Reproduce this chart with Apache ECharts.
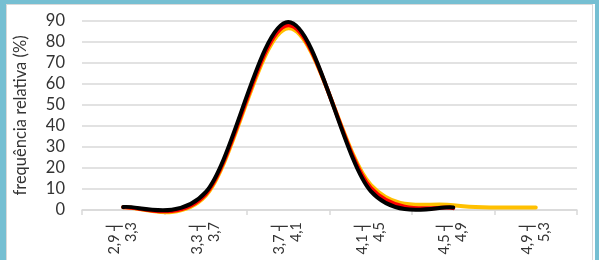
<!DOCTYPE html>
<html>
<head>
<meta charset="utf-8">
<script src="https://cdn.jsdelivr.net/npm/echarts@6/dist/echarts.min.js"></script>
<style>
  html, body { margin: 0; padding: 0; background: #fff; }
  #wrap { position: relative; width: 599px; height: 260px; overflow: hidden; }
  #chart { position: absolute; left: 0; top: 0; width: 599px; height: 260px; }
  .frame { position: absolute; pointer-events: none; }
</style>
</head>
<body>
<div id="wrap">
  <div id="chart"></div>
  <!-- blue slide frame + thin grey chart border -->
  <div class="frame" style="left:6px;top:4px;width:587px;height:260px;border:1px solid #d9d9d9;box-sizing:border-box;"></div>
  <div class="frame" style="left:0;top:0;width:6px;height:260px;background:#76bfd2;"></div>
  <div class="frame" style="left:0;top:0;width:599px;height:4px;background:#76bfd2;"></div>
  <div class="frame" style="left:595px;top:0;width:4px;height:260px;background:#76bfd2;"></div>
</div>
<script>
// class intervals (x axis)
var categories = ["2,9 ┤\n3,3", "3,3 ┤\n3,7", "3,7 ┤\n4,1", "4,1 ┤\n4,5", "4,5 ┤\n4,9", "4,9 ┤\n5,3"];
// relative frequency (%) per series
var serieAmarela = [1.3, 6.8, 86.5, 12.0, 2.3, 1.2];
var serieVermelha = [1.3, 7.6, 88.0, 10.5, 0.9];
var seriePreta = [1.4, 8.5, 89.5, 9.0, 1.2];
var yTicks = { min: 0, max: 90, interval: 10 };

var myChart = echarts.init(document.getElementById("chart"));

// excel-like smoothed line (catmull-rom through the data points, 1/6 tension)
function smoothSerie(name, values, color) {
  return {
    name: name,
    type: "custom",
    coordinateSystem: "cartesian2d",
    data: values.map(function (v, i) { return [i, v]; }),
    encode: { x: 0, y: 1 },
    renderItem: function (params, api) {
      if (params.dataIndex !== 0) return null;
      var pts = values.map(function (v, i) { return api.coord([i, v]); });
      var d = "M" + pts[0][0] + " " + pts[0][1];
      for (var i = 0; i < pts.length - 1; i++) {
        var p0 = pts[Math.max(i - 1, 0)];
        var p1 = pts[i];
        var p2 = pts[i + 1];
        var p3 = pts[Math.min(i + 2, pts.length - 1)];
        var c1x = p1[0] + (p2[0] - p0[0]) / 6, c1y = p1[1] + (p2[1] - p0[1]) / 6;
        var c2x = p2[0] - (p3[0] - p1[0]) / 6, c2y = p2[1] - (p3[1] - p1[1]) / 6;
        d += " C" + c1x + " " + c1y + " " + c2x + " " + c2y + " " + p2[0] + " " + p2[1];
      }
      return {
        type: "path",
        shape: { pathData: d },
        style: { stroke: color, lineWidth: 4, fill: "none", lineCap: "round", lineJoin: "round" },
      };
    },
  };
}

var option = {
  animation: false,
  backgroundColor: "#fff",
  grid: { left: 82, right: 22, top: 21, bottom: 50 },
  xAxis: {
    type: "category",
    data: categories,
    boundaryGap: true,
    axisLine: { lineStyle: { color: "#d9d9d9", width: 1.5 } },
    axisTick: { show: true, length: 5, lineStyle: { color: "#d9d9d9", width: 1.5 } },
    axisLabel: {
      rotate: 90,
      interval: 0,
      margin: 12,
      color: "#333",
      fontSize: 14.5,
      lineHeight: 17,
      fontFamily: "Lato, 'DejaVu Sans', sans-serif",
    },
  },
  yAxis: {
    type: "value",
    min: yTicks.min,
    max: yTicks.max,
    interval: yTicks.interval,
    name: "frequência relativa (%)",
    nameLocation: "middle",
    nameGap: 53,
    nameTextStyle: { color: "#333", fontSize: 16.5, fontFamily: "Lato, sans-serif" },
    axisLine: { show: false },
    axisTick: { show: false },
    axisLabel: { color: "#333", fontSize: 16.5, margin: 17, fontFamily: "Lato, sans-serif" },
    splitLine: { lineStyle: { color: "#d9d9d9", width: 1.5 } },
  },
  series: [
    smoothSerie("amarela", serieAmarela, "#ffc000"),
    smoothSerie("vermelha", serieVermelha, "#ff0000"),
    smoothSerie("preta", seriePreta, "#000000"),
  ],
};

myChart.setOption(option);
</script>
</body>
</html>
